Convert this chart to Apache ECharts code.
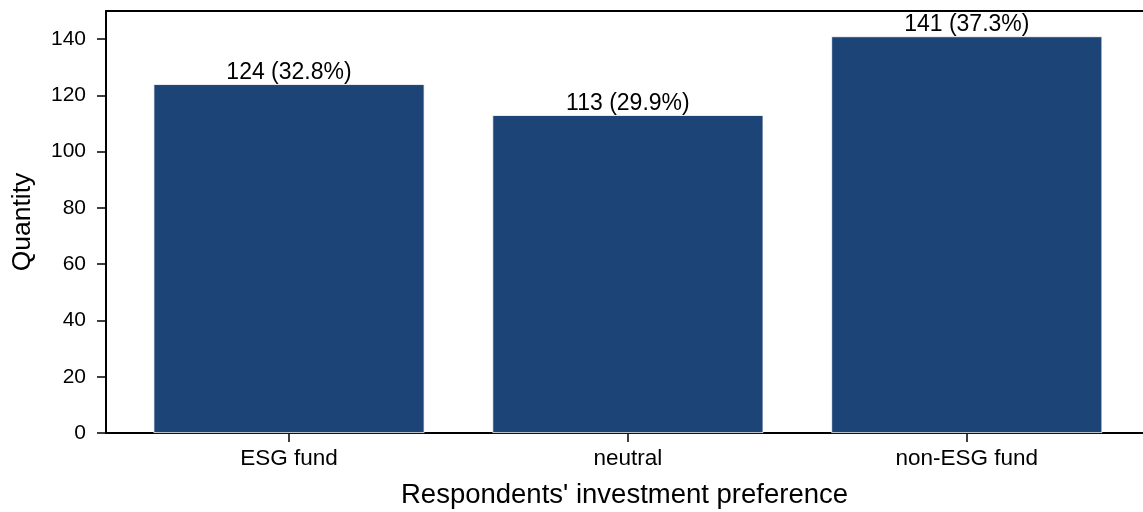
<!DOCTYPE html>
<html><head><meta charset="utf-8">
<script src="https://cdn.jsdelivr.net/npm/echarts@6/dist/echarts.min.js"></script>
<style>html,body{margin:0;padding:0;background:#fff}#c{width:1143px;height:512px}</style>
</head><body><div id="c"></div>
<script>
const categories = ["ESG fund", "neutral", "non-ESG fund"];
const counts = [124, 113, 141];
const yTicks = [0, 20, 40, 60, 80, 100, 120, 140];
const xPositions = [0, 1, 2];

const total = counts.reduce((a, b) => a + b, 0);
const font = "'Liberation Sans', Arial, sans-serif";
const chart = echarts.init(document.getElementById('c'), null, {renderer: 'canvas'});
chart.setOption({
  animation: false,
  backgroundColor: '#fff',
  grid: {left: 106, right: 0, top: 11, bottom: 79, containLabel: false, outerBoundsMode: 'none'},
  xAxis: [{
    type: 'value', min: -0.54, max: 2.52,
    splitLine: {show: false},
    axisLine: {show: true, onZero: false, lineStyle: {color: '#000', width: 2}},
    axisTick: {show: true, customValues: xPositions, length: 9, lineStyle: {color: '#000', width: 1.5}},
    axisLabel: {customValues: xPositions, formatter: v => categories[Math.round(v)] || '', color: '#000', fontSize: 22.5, fontFamily: font, margin: 14},
    name: "Respondents' investment preference", nameLocation: 'middle', nameGap: 48,
    nameTextStyle: {color: '#000', fontSize: 27.5, fontFamily: font}
  }, {
    type: 'value', min: -0.54, max: 2.52, position: 'top',
    axisLine: {show: true, onZero: false, lineStyle: {color: '#000', width: 2}},
    axisTick: {show: false}, axisLabel: {show: false}, splitLine: {show: false}
  }],
  yAxis: {
    type: 'value', min: 0, max: 150,
    splitLine: {show: false},
    axisLine: {show: true, onZero: false, lineStyle: {color: '#000', width: 2}},
    axisTick: {show: true, customValues: yTicks, length: 9, lineStyle: {color: '#000', width: 1.5}},
    axisLabel: {customValues: yTicks, color: '#000', fontSize: 21, fontFamily: font, margin: 20},
    name: 'Quantity', nameLocation: 'middle', nameGap: 70,
    nameTextStyle: {color: '#000', fontSize: 26.5, fontFamily: font}
  },
  series: [{
    type: 'bar',
    barWidth: 271,
    data: counts.map((v, i) => [xPositions[i], v]),
    itemStyle: {color: '#1c4476', borderColor: '#ffffff', borderWidth: 0.8},
    label: {
      show: true, position: 'top', distance: 0,
      color: '#000', fontSize: 23, fontFamily: font,
      formatter: p => p.value[1] + ' (' + (p.value[1] / total * 100).toFixed(1) + '%)'
    }
  }]
});
</script></body></html>
